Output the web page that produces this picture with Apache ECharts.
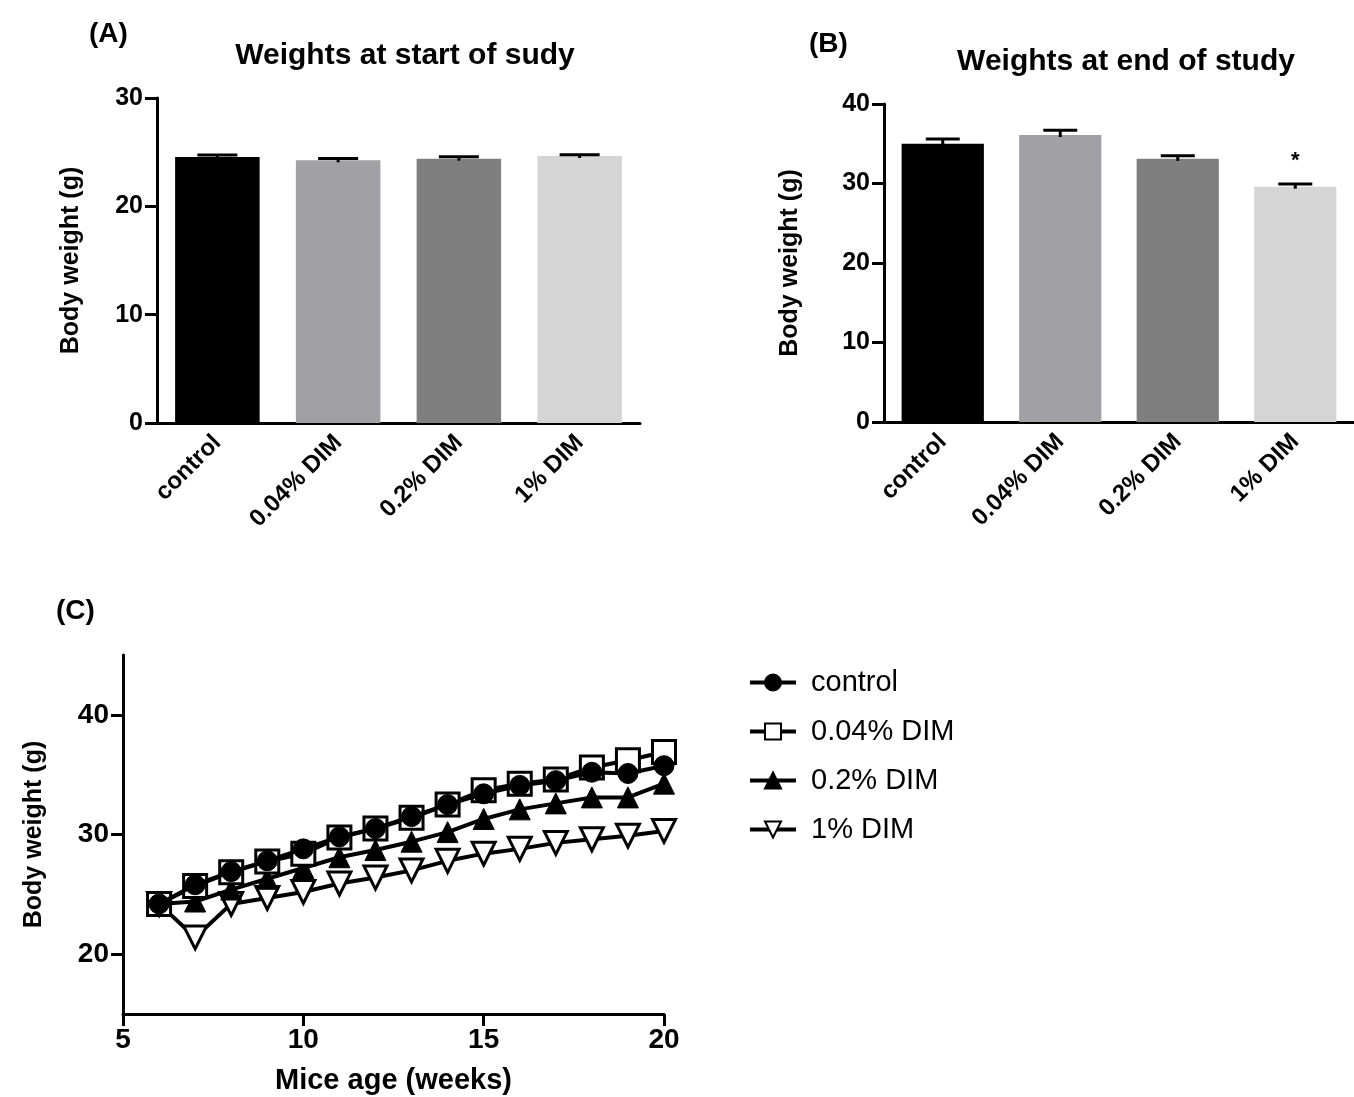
<!DOCTYPE html>
<html>
<head>
<meta charset="utf-8">
<script src="https://cdn.jsdelivr.net/npm/echarts@6/dist/echarts.min.js"></script>
</head>
<body style="margin:0;background:#fff">
<div id="main" style="width:1354px;height:1097px"></div>
<script>
  // groups shared by panels A and B
  const groups = ['control', '0.04% DIM', '0.2% DIM', '1% DIM'];
  const barColors = ['#000000', '#a1a1a5', '#7f7f7f', '#d5d5d5'];

  // (A) weights at start
  const startMean = [24.55, 24.25, 24.4, 24.65];
  const startSem = [0.2, 0.17, 0.17, 0.12];

  // (B) weights at end
  const endMean = [35.0, 36.1, 33.1, 29.6];
  const endSem = [0.6, 0.6, 0.4, 0.35];
  const endSig = ['', '', '', '*'];

  // (C) weekly body weight
  const weeks = [6, 7, 8, 9, 10, 11, 12, 13, 14, 15, 16, 17, 18, 19, 20];
  const control = [24.2, 25.8, 26.9, 27.8, 28.8, 29.8, 30.5, 31.5, 32.5, 33.4, 34.1, 34.5, 35.2, 35.1, 35.75];
  const dim004 = [24.2, 25.7, 26.85, 27.75, 28.4, 29.75, 30.5, 31.4, 32.5, 33.7, 34.25, 34.6, 35.6, 36.2, 36.9];
  const dim02 = [24.2, 24.4, 25.4, 26.3, 27.2, 28.1, 28.7, 29.4, 30.2, 31.3, 32.1, 32.6, 33.1, 33.1, 34.25];
  const dim1 = [24.2, 21.4, 24.2, 24.7, 25.2, 25.9, 26.4, 27.0, 27.8, 28.4, 28.8, 29.3, 29.6, 29.9, 30.3];

  const FONT = "'Liberation Sans', Arial, sans-serif";
  const mChart = echarts.init(document.getElementById('main'), null, {renderer: 'canvas'});

  const axisLine = {lineStyle: {color: '#000', width: 3}};
  const axisTick = {length: 12, lineStyle: {color: '#000', width: 3}};
  const boldText = (size) => ({color: '#000', fontFamily: FONT, fontWeight: 'bold', fontSize: size});

  const catAxis = (gridIndex) => ({
    type: 'category',
    gridIndex: gridIndex,
    data: groups,
    axisLine: axisLine,
    axisTick: Object.assign({alignWithLabel: true}, axisTick),
    axisLabel: Object.assign({rotate: 45, margin: 16, interval: 0}, boldText(24))
  });

  const valAxis = (gridIndex, max, gap) => ({
    type: 'value',
    gridIndex: gridIndex,
    min: 0,
    max: max,
    interval: 10,
    name: 'Body weight (g)',
    nameLocation: 'middle',
    nameGap: gap,
    nameTextStyle: boldText(25),
    splitLine: {show: false},
    axisLine: Object.assign({show: true}, axisLine),
    axisTick: Object.assign({show: true}, axisTick),
    axisLabel: Object.assign({margin: 14}, boldText(25))
  });

  const groupsSig = {};

  // upper error bar + significance mark
  const errorRender = (capHalf) => function (params, api) {
    const x = api.value(0);
    const mean = api.value(1);
    const err = api.value(2);
    const base = api.coord([x, mean]);
    const top = api.coord([x, mean + err]);
    const sig = groupsSig[params.seriesIndex] ? groupsSig[params.seriesIndex][params.dataIndex] : '';
    const children = [
      {type: 'line', shape: {x1: base[0], y1: base[1] + 2, x2: top[0], y2: top[1]}, style: {stroke: '#000', lineWidth: 3}},
      {type: 'line', shape: {x1: top[0] - capHalf, y1: top[1], x2: top[0] + capHalf, y2: top[1]}, style: {stroke: '#000', lineWidth: 3}}
    ];
    if (sig) {
      children.push({type: 'text', x: top[0], y: top[1] - 12,
        style: {text: sig, fill: '#000', font: 'bold 22px ' + FONT, align: 'center', verticalAlign: 'bottom'}});
    }
    return {type: 'group', children: children};
  };

  const barData = (means) => means.map((v, i) => ({value: v, itemStyle: {color: barColors[i]}}));
  const errData = (means, sems) => means.map((v, i) => [i, v, sems[i]]);

  const lineSeries = (name, data, symbol, filled, z, size, rotate) => ({
    name: name,
    type: 'line',
    xAxisIndex: 2,
    yAxisIndex: 2,
    z: z,
    data: weeks.map((w, i) => [w, data[i]]),
    symbol: symbol,
    symbolSize: size,
    symbolRotate: rotate || 0,
    showAllSymbol: true,
    lineStyle: {color: '#000', width: 4},
    itemStyle: filled ? {color: '#000', borderColor: '#000', borderWidth: 1}
                      : {color: '#fff', borderColor: '#000', borderWidth: 3}
  });

  const option = {
    backgroundColor: '#fff',
    animation: false,
    title: [
      {text: '(A)', left: 84, top: 15, textStyle: boldText(28)},
      {text: 'Weights at start of sudy', left: 400, top: 36, textAlign: 'center', textStyle: boldText(30)},
      {text: '(B)', left: 804, top: 25, textStyle: boldText(28)},
      {text: 'Weights at end of study', left: 1121, top: 42, textAlign: 'center', textStyle: boldText(30)},
      {text: '(C)', left: 51, top: 592, textStyle: boldText(28)}
    ],
    legend: {
      orient: 'vertical',
      left: 743,
      top: 663,
      itemWidth: 46,
      itemHeight: 20,
      itemGap: 20,
      data: ['control', '0.04% DIM', '0.2% DIM', '1% DIM'],
      lineStyle: {width: 4, color: '#000'},
      textStyle: {color: '#000', fontFamily: FONT, fontSize: 29, padding: [0, 0, 0, 10]}
    },
    grid: [
      {left: 157, top: 98, width: 483, height: 325},
      {left: 884, top: 104, width: 470, height: 318},
      {left: 123, top: 655, width: 541, height: 359}
    ],
    xAxis: [
      catAxis(0),
      catAxis(1),
      {
        type: 'value',
        gridIndex: 2,
        min: 5,
        max: 20,
        interval: 5,
        name: 'Mice age (weeks)',
        nameLocation: 'middle',
        nameGap: 52,
        nameTextStyle: boldText(29),
        splitLine: {show: false},
        axisLine: axisLine,
        axisTick: axisTick,
        axisLabel: Object.assign({margin: 12}, boldText(28))
      }
    ],
    yAxis: [
      valAxis(0, 30, 73),
      valAxis(1, 40, 81),
      {
        type: 'value',
        gridIndex: 2,
        min: 15,
        max: 45,
        name: 'Body weight (g)',
        nameLocation: 'middle',
        nameGap: 76,
        nameTextStyle: boldText(25),
        splitLine: {show: false},
        axisLine: Object.assign({show: true}, axisLine),
        axisTick: Object.assign({show: true, customValues: [20, 30, 40]}, axisTick),
        axisLabel: Object.assign({margin: 14, customValues: [20, 30, 40]}, boldText(28))
      }
    ],
    series: [
      {type: 'bar', xAxisIndex: 0, yAxisIndex: 0, barWidth: '70%', data: barData(startMean)},
      {type: 'custom', xAxisIndex: 0, yAxisIndex: 0, z: 5, renderItem: errorRender(20),
        encode: {x: 0, y: 1}, data: errData(startMean, startSem)},
      {type: 'bar', xAxisIndex: 1, yAxisIndex: 1, barWidth: '70%', data: barData(endMean)},
      {type: 'custom', xAxisIndex: 1, yAxisIndex: 1, z: 5, renderItem: errorRender(17),
        encode: {x: 0, y: 1}, data: errData(endMean, endSem)},
      lineSeries('control', control, 'circle', true, 6, 20),
      lineSeries('0.04% DIM', dim004, 'rect', false, 5, 23),
      lineSeries('0.2% DIM', dim02, 'triangle', true, 4, 21),
      lineSeries('1% DIM', dim1, 'triangle', false, 3, 23, 180)
    ]
  };
  groupsSig[3] = endSig;

  mChart.setOption(option);
  window.addEventListener('resize', mChart.resize);
</script>
</body>
</html>
